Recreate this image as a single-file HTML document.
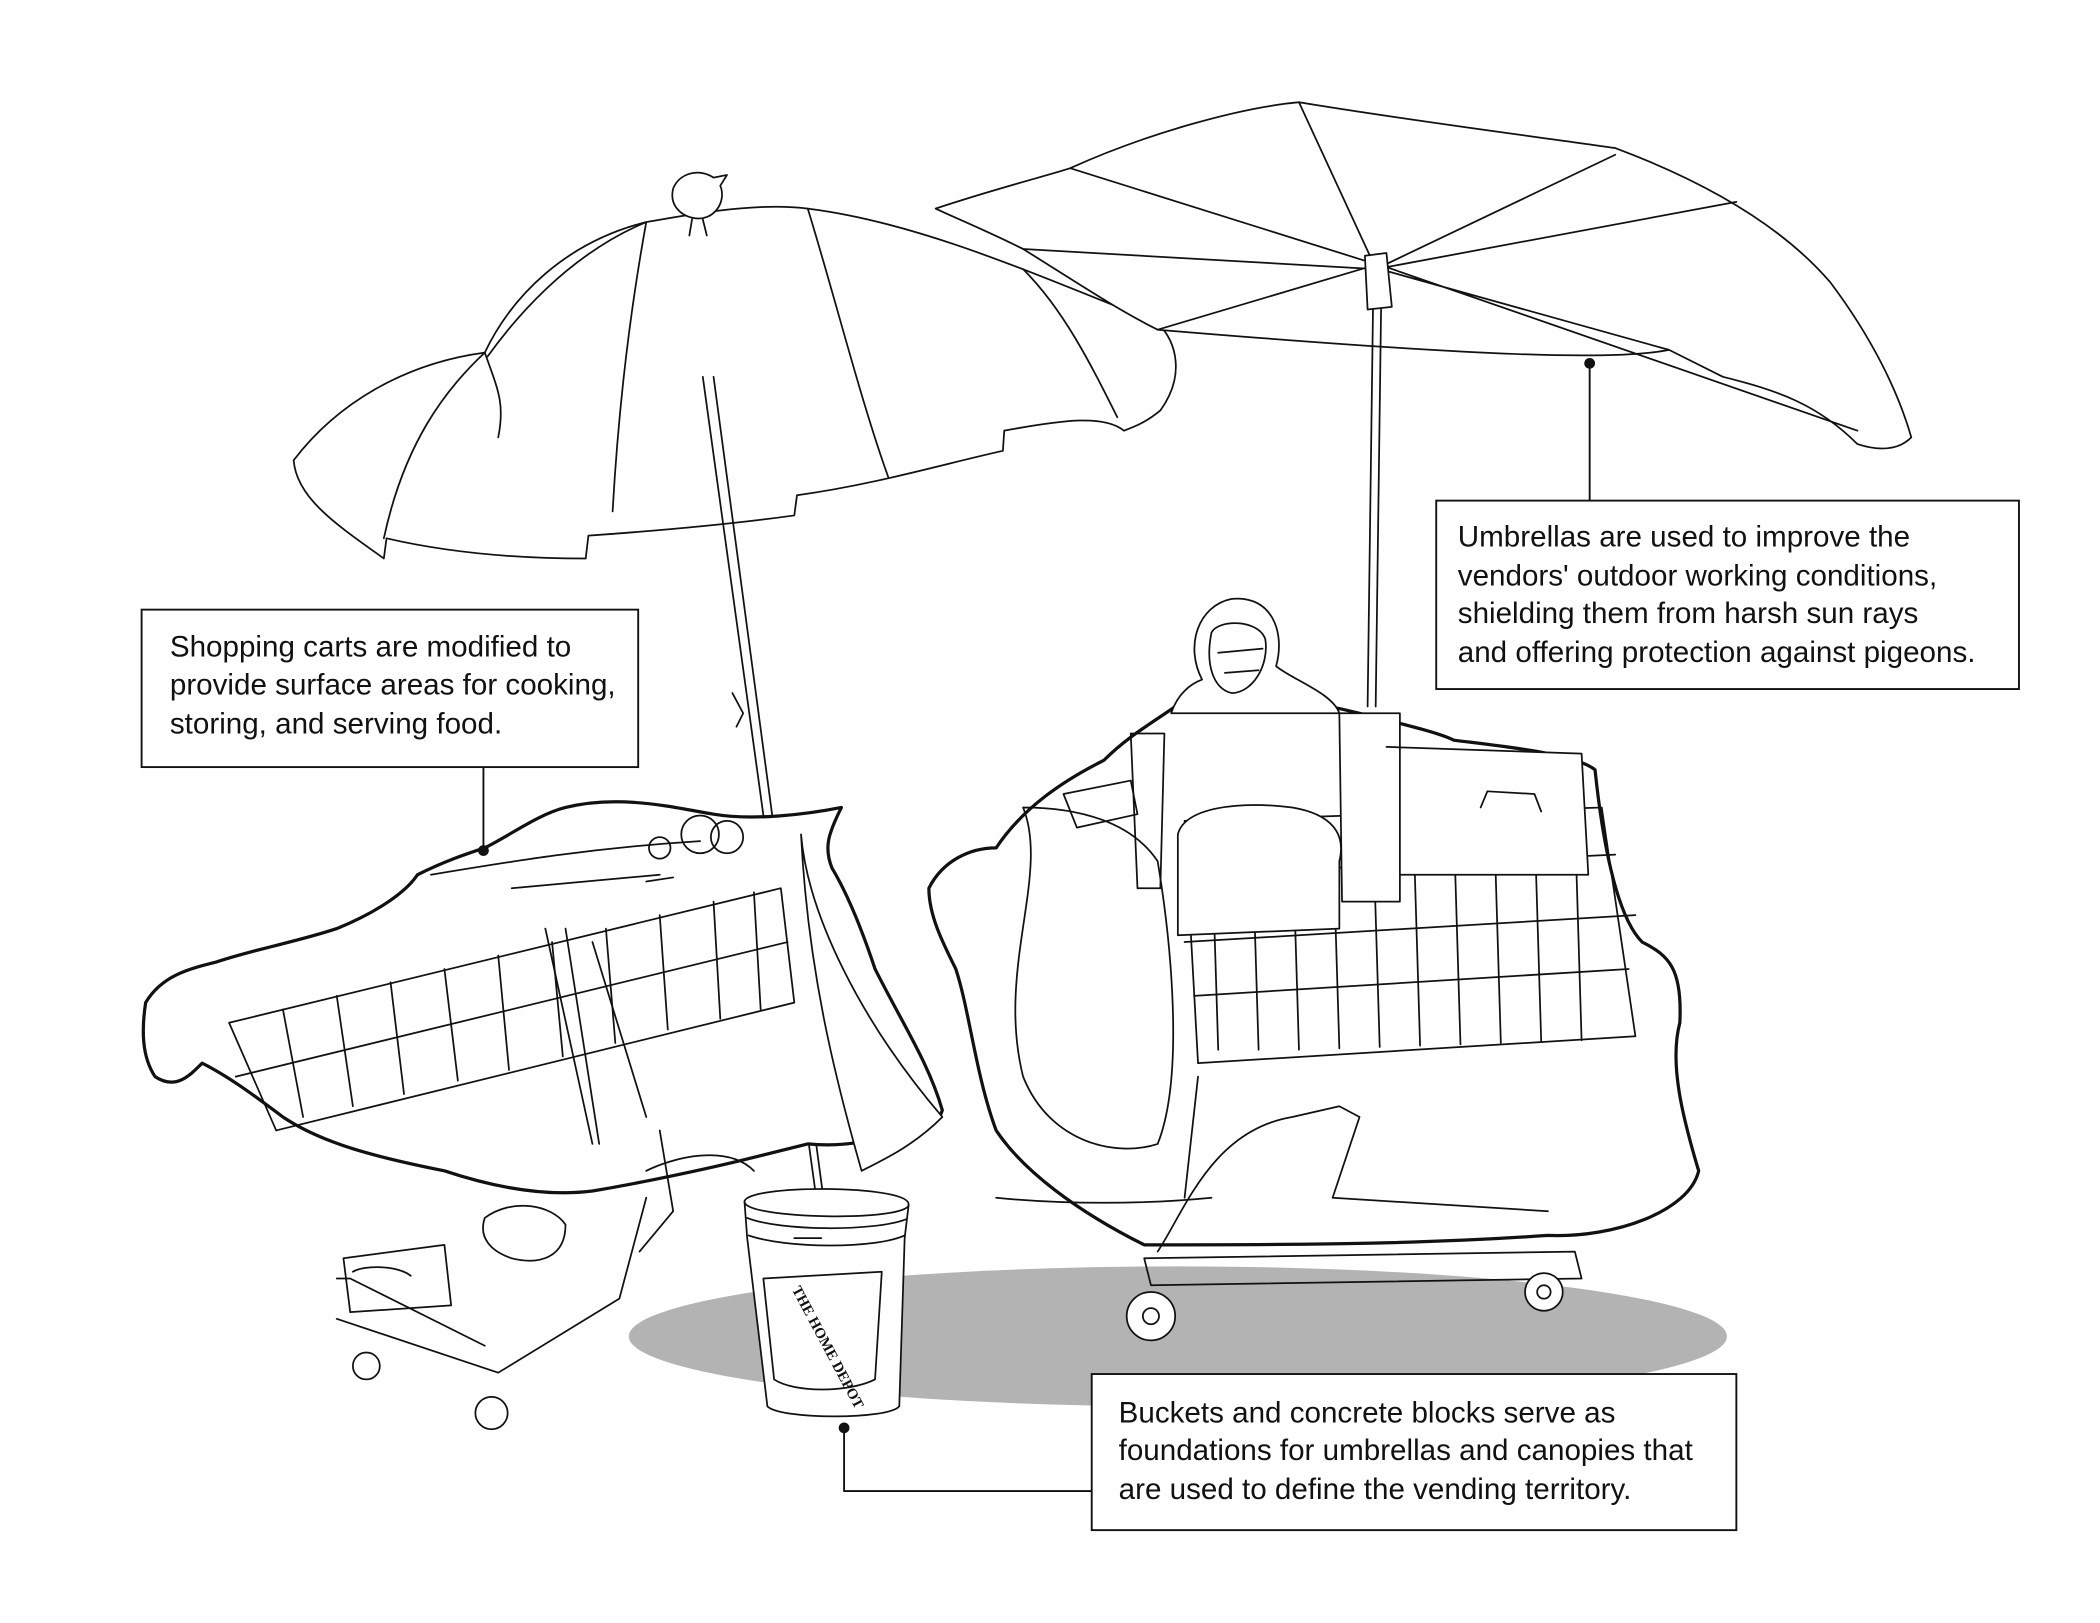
<!DOCTYPE html>
<html><head><meta charset="utf-8"><style>
html,body{margin:0;padding:0;background:#fff;}
svg{display:block;}
text{font-family:"Liberation Sans",sans-serif;font-size:22px;fill:#111;}
</style></head><body>
<svg width="2100" height="1623" viewBox="0 0 1560 1206" xmlns="http://www.w3.org/2000/svg">
<rect width="1560" height="1206" fill="#fff"/>
<ellipse cx="875" cy="993" rx="408" ry="52" fill="#b3b3b3"/>
<g fill="none" stroke="#111" stroke-width="1.3" stroke-linejoin="round" stroke-linecap="round">
<path d="M218,342 C250,300 300,270 360,262 C380,220 420,180 480,165 C510,160 560,150 600,155 C680,165 760,200 860,240 C875,255 880,280 862,305 C850,315 840,318 835,320" fill="#fff"/>
<path d="M218,342 C220,370 250,390 285,415 L287,400 C330,410 380,415 435,415 L437,398 C480,395 540,390 590,383 L592,368 C650,360 700,345 745,335 L746,320 C790,312 820,308 835,320"/>
<path d="M360,262 C370,290 375,300 370,325 M480,165 C470,220 460,290 455,380 M600,155 C620,220 640,300 660,355 M360,262 C330,290 300,330 285,400 M760,200 C790,230 810,270 830,310 M480,165 C420,190 380,240 362,265"/>
<path d="M522,280 L607,895 M530,280 L612,893"/>
<path d="M544,515 L552,530 L547,540"/>
<path d="M500,140 C505,128 520,125 530,132 L540,130 L535,138 C540,150 530,165 515,162 C505,160 497,152 500,140 Z M514,163 L512,175 M522,163 L525,175" fill="#fff"/>
<path d="M695,155 C740,140 780,130 795,125 C850,100 920,80 965,76 C1050,90 1130,100 1200,110 C1280,140 1330,175 1360,210 C1390,250 1410,290 1420,325 C1410,335 1395,335 1380,330 C1350,300 1320,290 1280,280 C1260,270 1250,265 1240,260 C1200,268 1100,265 860,245 C830,230 800,210 760,185 C730,170 705,160 695,155 Z" fill="#fff"/>
<path d="M760,185 L1022,200 L1200,115 M860,245 L1018,198 L1240,260 M965,76 L1020,195 L1380,320 M795,125 L1018,195 M1290,150 L1022,200"/>
<path d="M1014,190 L1030,188 L1034,228 L1016,230 Z" fill="#fff"/>
<path d="M1020,230 L1016,525 M1026,230 L1022,525"/>
<path d="M690,660 C700,640 720,630 740,630 C760,600 790,580 820,565 C840,545 860,535 880,520 C920,510 990,525 1010,530 C1050,540 1070,545 1080,550 C1120,555 1170,560 1185,572 C1190,620 1200,680 1220,700 C1240,710 1250,720 1248,760 C1240,790 1250,830 1262,870 C1255,900 1200,920 1150,918 C1050,925 950,925 850,925 C800,900 760,870 740,840 C725,800 720,750 710,720 C700,700 690,680 690,660 Z" fill="#fff" stroke-width="2.4"/>
<path d="M880,610 L1190,600 M880,700 L1215,680 M890,790 L1215,770 M880,610 L890,790 M1190,600 L1215,770"/>
<path d="M900,620 L905,780 M930,618 L935,780 M960,617 L965,780 M990,616 L995,779 M1020,615 L1025,778 M1050,614 L1055,777 M1080,612 L1085,776 M1110,611 L1115,775 M1140,610 L1145,774 M1170,608 L1175,773"/>
<path d="M885,650 L1200,635 M887,740 L1210,720"/>
<path d="M760,600 C780,650 740,720 760,800 C780,850 830,860 860,850 C880,800 870,700 860,640 C840,610 800,600 760,600 Z"/>
<path d="M875,620 C880,600 920,595 960,600 C990,605 1000,620 995,640 L995,690 L875,695 Z" fill="#fff"/>
<path d="M995,530 L1040,530 L1040,670 L997,670 Z M1030,555 L1175,560 L1180,650 L1040,650" fill="#fff"/>
<path d="M1100,600 L1105,588 L1140,590 L1145,603"/>
<path d="M840,545 L865,545 L862,660 L845,660 Z"/>
<path d="M790,590 L840,580 L845,605 L800,615 Z"/>
<path d="M893,505 C880,480 890,450 915,445 C945,442 955,470 948,495 C960,505 990,515 995,530 L870,530 C875,515 885,508 893,505 Z" fill="#fff"/>
<path d="M900,470 C905,460 935,460 940,475 C943,495 930,515 915,515 C902,512 895,495 900,470 Z"/>
<path d="M905,485 L938,482 M910,500 L935,498"/>
<path d="M890,800 L880,890 M860,930 C880,900 900,840 960,830 L995,822 L1010,830 L990,890 L1150,900 M850,935 L1170,930 L1175,950 L855,955 Z"/>
<path d="M740,890 C790,895 850,895 900,890"/>
<circle cx="855" cy="978" r="18" fill="#fff"/><circle cx="855" cy="978" r="6"/>
<circle cx="1147" cy="960" r="14" fill="#fff"/><circle cx="1147" cy="960" r="5"/>
<path d="M108,745 C120,725 140,720 160,715 C190,705 220,700 250,690 C275,680 300,665 310,650 C330,640 345,635 360,630 C380,620 400,605 420,600 C460,590 500,600 530,605 C560,610 600,605 625,600 C615,620 612,630 618,645 C630,665 640,690 650,720 C670,760 690,790 700,825 C695,840 680,845 660,843 C640,850 620,852 600,850 L560,860 C520,870 470,880 440,885 C400,890 360,880 330,870 C280,860 240,850 210,830 C190,815 170,800 150,790 C140,800 130,810 115,800 C105,785 105,765 108,745 Z" fill="#fff" stroke-width="2.4"/>
<path d="M170,760 L580,660 M175,800 L585,700 M205,840 L590,745 M170,760 L205,840 M580,660 L590,745"/>
<path d="M210,750 L225,830 M250,740 L262,822 M290,730 L300,813 M330,720 L340,803 M370,710 L378,795 M410,700 L418,785 M450,690 L457,775 M490,680 L496,765 M530,670 L535,757 M560,663 L565,750"/>
<path d="M320,650 C380,640 440,630 520,625 M380,660 L490,650 M480,655 L500,652"/>
<circle cx="520" cy="620" r="14"/><circle cx="540" cy="622" r="12"/><circle cx="490" cy="630" r="8"/>
<path d="M405,690 L440,850 M420,690 L445,850 M440,700 L480,830"/>
<path d="M250,980 L370,1020 L460,965 L480,890 M250,950 L260,950 L360,1000 M255,935 L330,925 L335,970 L260,975 Z" fill="#fff"/>
<path d="M262,945 C270,940 295,940 305,948"/>
<path d="M360,905 C380,890 410,895 420,910 C420,935 400,940 380,935 C365,930 355,920 360,905 Z"/>
<path d="M480,870 C500,860 540,850 560,870 M490,840 L500,900 L475,930"/>
<circle cx="365" cy="1050" r="12" fill="#fff"/><circle cx="272" cy="1015" r="10" fill="#fff"/>
<path d="M595,620 C600,680 640,760 700,830 C680,850 660,860 640,870 C620,800 600,720 595,620 Z" fill="#fff"/>
<path d="M553,893 C553,880 675,880 675,895 L672,920 L668,1045 C660,1055 580,1055 570,1045 L555,920 Z" fill="#fff"/>
<path d="M553,893 C553,906 675,908 675,895 M555,905 C580,915 650,915 673,906 M556,918 C585,928 650,928 672,918"/>
<path d="M567,950 L655,945 L650,1025 C630,1035 590,1035 575,1025 Z"/>
<path d="M590,920 L610,920"/>
</g>
<text x="588" y="958" transform="rotate(62 588 958)" style="font-size:11px;font-family:'Liberation Serif',serif;font-weight:bold">THE HOME DEPOT</text>
<rect x="105" y="453" width="369" height="117" fill="#fff" stroke="#111" stroke-width="1.4"/>
<text x="126" y="488">Shopping carts are modified to</text>
<text x="126" y="516">provide surface areas for cooking,</text>
<text x="126" y="545">storing, and serving food.</text>
<path d="M359,570 L359,632" stroke="#111" stroke-width="1.4"/>
<circle cx="359" cy="632" r="4" fill="#111"/>
<rect x="1067" y="372" width="433" height="140" fill="#fff" stroke="#111" stroke-width="1.4"/>
<text x="1083" y="406">Umbrellas are used to improve the</text>
<text x="1083" y="435">vendors' outdoor working conditions,</text>
<text x="1083" y="463">shielding them from harsh sun rays</text>
<text x="1083" y="492">and offering protection against pigeons.</text>
<path d="M1181,268 L1181,372" stroke="#111" stroke-width="1.4"/>
<circle cx="1181" cy="270" r="4" fill="#111"/>
<rect x="811" y="1021" width="479" height="116" fill="#fff" stroke="#111" stroke-width="1.4"/>
<text x="831" y="1057">Buckets and concrete blocks serve as</text>
<text x="831" y="1085">foundations for umbrellas and canopies that</text>
<text x="831" y="1114">are used to define the vending territory.</text>
<path d="M627,1061 L627,1108 L811,1108" fill="none" stroke="#111" stroke-width="1.4"/>
<circle cx="627" cy="1061" r="4" fill="#111"/>
</svg>
</body></html>
